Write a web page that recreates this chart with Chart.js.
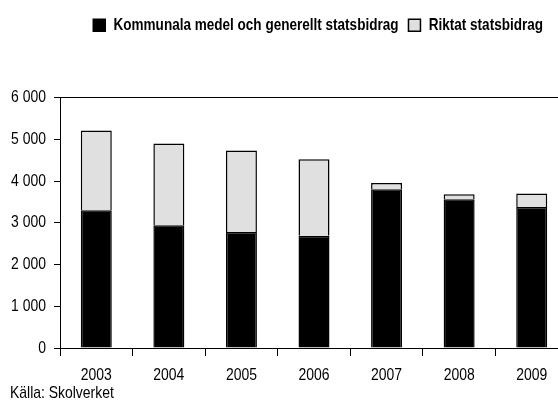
<!DOCTYPE html>
<html>
<head>
<meta charset="utf-8">
<script src="https://cdn.jsdelivr.net/npm/chart.js@4/dist/chart.umd.min.js"></script>
<style>
html,body{margin:0;padding:0;background:#fff;overflow:hidden;}
#wrap{width:558px;height:402px;overflow:hidden;}
canvas{display:block;}
</style>
</head>
<body>
<div id="wrap"><canvas id="c" width="568" height="402"></canvas></div>
<script>
const years = ['2003','2004','2005','2006','2007','2008','2009'];
const kommunala = [3300, 2940, 2780, 2690, 3800, 3560, 3380];
const riktat = [1910, 1960, 1950, 1830, 150, 120, 320];
const seriesNames = ['Kommunala medel och generellt statsbidrag', 'Riktat statsbidrag'];
const yTicks = [0, 1000, 2000, 3000, 4000, 5000, 6000];
const sourceText = 'Källa: Skolverket';

const FONT = "'Liberation Sans', Arial, sans-serif";
const SX = 0.82; // horizontal condensing of all text (reference uses a condensed face)

const canvas = document.getElementById('c');
const ctx = canvas.getContext('2d');
const origFill = CanvasRenderingContext2D.prototype.fillText;
const origMeasure = CanvasRenderingContext2D.prototype.measureText;
ctx.fillText = function (t, x, y, mw) {
  this.save();
  this.translate(x, y);
  this.scale(SX, 1);
  if (mw === undefined) origFill.call(this, t, 0, 0);
  else origFill.call(this, t, 0, 0, mw / SX);
  this.restore();
};
ctx.measureText = function (t) {
  const m = origMeasure.call(this, t);
  return {
    width: m.width * SX,
    actualBoundingBoxLeft: m.actualBoundingBoxLeft * SX,
    actualBoundingBoxRight: m.actualBoundingBoxRight * SX,
    actualBoundingBoxAscent: m.actualBoundingBoxAscent,
    actualBoundingBoxDescent: m.actualBoundingBoxDescent,
    fontBoundingBoxAscent: m.fontBoundingBoxAscent,
    fontBoundingBoxDescent: m.fontBoundingBoxDescent
  };
};

const shiftLegend = {
  id: 'shiftLegend',
  afterLayout(chart) {
    const s = 15;
    chart.legend.left -= s;
    chart.legend.right -= s;
  }
};

new Chart(ctx, {
  type: 'bar',
  data: {
    labels: years,
    datasets: [
      { label: seriesNames[0], data: kommunala, backgroundColor: '#000', borderColor: '#000', borderWidth: 1.5, borderSkipped: 'bottom' },
      { label: seriesNames[1], data: riktat, backgroundColor: '#e0e0e0', borderColor: '#000', borderWidth: 1.5, borderSkipped: 'bottom' }
    ]
  },
  options: {
    responsive: false,
    animation: false,
    devicePixelRatio: 1,
    layout: { padding: { top: 7, left: 10, right: 0, bottom: 0 } },
    datasets: { bar: { barPercentage: 0.427, categoryPercentage: 1 } },
    plugins: {
      legend: {
        position: 'top',
        align: 'end',
        labels: {
          boxWidth: 12, boxHeight: 12, padding: 10, color: '#000',
          font: { family: FONT, size: 16.5, weight: 'bold' }
        }
      },
      title: {
        display: true, text: ' ', position: 'top', weight: 500,
        font: { size: 10, lineHeight: 1 }, padding: { top: 0, bottom: 44 }
      },
      subtitle: {
        display: true, text: sourceText, position: 'bottom', align: 'start', color: '#000',
        font: { family: FONT, size: 17, lineHeight: 1 }, padding: 0
      },
      tooltip: { enabled: false }
    },
    scales: {
      x: {
        stacked: true,
        afterFit(scale) { scale.height = 37; },
        border: { display: true, color: '#000', width: 1 },
        grid: { offset: true, drawOnChartArea: false, tickLength: 8, tickColor: '#000', color: '#000' },
        ticks: { color: '#000', padding: 9, font: { family: FONT, size: 17 } }
      },
      y: {
        stacked: true,
        min: 0, max: 6000,
        afterFit(scale) { scale.width = 50; },
        afterBuildTicks(scale) { scale.ticks = yTicks.map(v => ({ value: v })); },
        border: { display: true, color: '#000', width: 1 },
        grid: {
          tickLength: 6, tickColor: '#000',
          color: (c) => (c.tick && c.tick.value === 6000) ? '#000' : 'rgba(0,0,0,0)'
        },
        ticks: {
          color: '#000', padding: 8, font: { family: FONT, size: 17 },
          callback: (v) => String(v).replace(/\B(?=(\d{3})+(?!\d))/g, ' ')
        }
      }
    }
  },
  plugins: [shiftLegend]
});
</script>
</body>
</html>
